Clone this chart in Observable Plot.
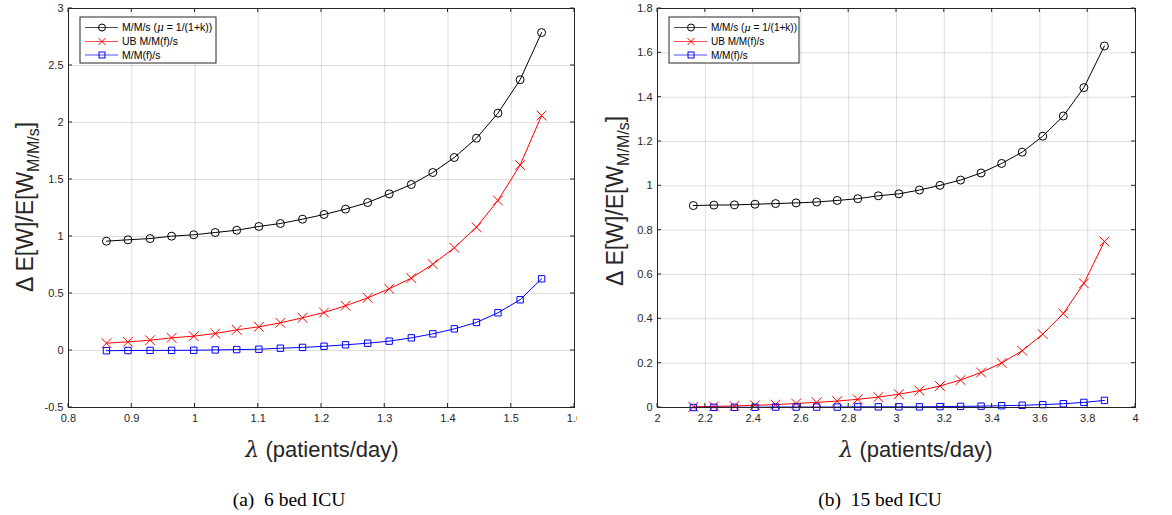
<!DOCTYPE html>
<html><head><meta charset="utf-8">
<script src="https://cdn.jsdelivr.net/npm/d3@7"></script>
<script src="https://cdn.jsdelivr.net/npm/@observablehq/plot@0.6"></script>
<style>
html,body{margin:0;padding:0;background:#fff;}
#wrap{position:relative;width:1172px;height:515px;overflow:hidden;background:#fff;}
#a{position:absolute;left:0;top:0;}
#b{position:absolute;left:586px;top:0;}
#overlay{position:absolute;left:0;top:0;pointer-events:none;}
</style></head><body>
<div id="wrap"><div id="a"></div><div id="b"></div><svg id="overlay" width="1172" height="515"></svg></div>
<script>
// ---- data ----
const seriesNames = ["M/M/s (μ = 1/(1+k))", "UB M/M(f)/s", "M/M(f)/s"];
const seriesColors = ["#000000", "#ff0000", "#0000ff"];
const seriesSymbols = ["circle", "times", "square"];

// (a) 6 bed ICU
const lambdaA = [0.860, 0.894, 0.929, 0.963, 0.998, 1.032, 1.066, 1.101, 1.135, 1.170, 1.204, 1.238, 1.273, 1.307, 1.342, 1.376, 1.410, 1.445, 1.479, 1.514, 1.548];
const mmsA = [0.959, 0.971, 0.982, 1.003, 1.015, 1.035, 1.055, 1.088, 1.114, 1.152, 1.193, 1.240, 1.298, 1.374, 1.456, 1.561, 1.693, 1.862, 2.082, 2.375, 2.789];
const ubA  = [0.064, 0.076, 0.090, 0.111, 0.126, 0.149, 0.181, 0.208, 0.243, 0.287, 0.333, 0.392, 0.462, 0.541, 0.635, 0.757, 0.901, 1.082, 1.316, 1.626, 2.061];
const mmfA = [-0.002, 0.000, 0.001, 0.001, 0.002, 0.005, 0.008, 0.011, 0.020, 0.027, 0.037, 0.050, 0.064, 0.082, 0.111, 0.146, 0.190, 0.246, 0.331, 0.445, 0.629];
const xTicksA = [0.8, 0.9, 1, 1.1, 1.2, 1.3, 1.4, 1.5, 1.6];
const yTicksA = [-0.5, 0, 0.5, 1, 1.5, 2, 2.5, 3];

// (b) 15 bed ICU
const lambdaB = [2.150, 2.236, 2.322, 2.408, 2.494, 2.580, 2.666, 2.752, 2.838, 2.924, 3.010, 3.096, 3.182, 3.268, 3.354, 3.440, 3.526, 3.612, 3.698, 3.784, 3.870];
const mmsB = [0.911, 0.913, 0.914, 0.917, 0.920, 0.923, 0.927, 0.934, 0.942, 0.955, 0.964, 0.981, 1.002, 1.026, 1.058, 1.101, 1.152, 1.224, 1.315, 1.443, 1.631];
const ubB  = [0.003, 0.005, 0.007, 0.010, 0.013, 0.018, 0.023, 0.029, 0.037, 0.047, 0.060, 0.076, 0.097, 0.124, 0.158, 0.201, 0.256, 0.331, 0.424, 0.560, 0.749];
const mmfB = [0.000, 0.001, 0.001, 0.001, 0.002, 0.002, 0.002, 0.002, 0.003, 0.003, 0.003, 0.003, 0.004, 0.005, 0.006, 0.008, 0.010, 0.013, 0.017, 0.023, 0.032];
const xTicksB = [2, 2.2, 2.4, 2.6, 2.8, 3, 3.2, 3.4, 3.6, 3.8, 4];
const yTicksB = [0, 0.2, 0.4, 0.6, 0.8, 1, 1.2, 1.4, 1.6, 1.8];

const xLabel = "(patients/day)";
const captions = ["(a)  6 bed ICU", "(b)  15 bed ICU"];

function makePanel({lam, series, xDomain, yDomain, xTicks, yTicks, width, marginLeft, marginRight, legendW, legendFont}) {
  const rs = [4, 4.5, 3.6];
  const marks = [
    Plot.gridX(xTicks, {stroke: "#000", strokeOpacity: 0.13, strokeWidth: 1}),
    Plot.gridY(yTicks, {stroke: "#000", strokeOpacity: 0.13, strokeWidth: 1})
  ];
  series.forEach((vals, i) => {
    const data = lam.map((x, j) => ({x, y: vals[j]}));
    marks.push(Plot.line(data, {x: "x", y: "y", stroke: seriesColors[i], strokeWidth: 1}));
    marks.push(Plot.dot(data, {x: "x", y: "y", symbol: seriesSymbols[i], r: rs[i], stroke: seriesColors[i], fill: "none", strokeWidth: 1}));
  });
  marks.push(Plot.axisX(xTicks, {tickSize: 0, tickPadding: 7, tickFormat: d => String(d), label: null, fill: "#262626"}));
  marks.push(Plot.axisY(yTicks, {tickSize: 0, tickPadding: 5, tickFormat: d => String(d), label: null, fill: "#262626"}));
  marks.push(Plot.frame({stroke: "#262626", strokeWidth: 1}));
  const plot = Plot.plot({
    width, height: 430, marginLeft, marginRight, marginTop: 8, marginBottom: 23,
    x: {domain: xDomain}, y: {domain: yDomain},
    style: {fontFamily: "'Liberation Sans', Arial, sans-serif", fontSize: "11px", color: "#262626", background: "white", overflow: "hidden"},
    marks
  });
  // inward ticks on all four sides
  const sx = plot.scale("x"), sy = plot.scale("y");
  const [xl, xr] = sx.range, [yb, yt] = sy.range;
  const svg = d3.select(plot);
  const g = svg.append("g").attr("stroke", "#262626").attr("stroke-width", 1);
  xTicks.forEach(t => {
    const px = sx.apply(t);
    g.append("line").attr("x1", px).attr("x2", px).attr("y1", yb).attr("y2", yb - 4);
    g.append("line").attr("x1", px).attr("x2", px).attr("y1", yt).attr("y2", yt + 4);
  });
  yTicks.forEach(t => {
    const py = sy.apply(t);
    g.append("line").attr("y1", py).attr("y2", py).attr("x1", xl).attr("x2", xl + 4);
    g.append("line").attr("y1", py).attr("y2", py).attr("x1", xr).attr("x2", xr - 4);
  });
  // legend
  const lx = xl + 12, ly = yt + 9;
  const lg = svg.append("g").attr("transform", `translate(${lx},${ly})`).attr("text-anchor", "start");
  lg.append("rect").attr("width", legendW).attr("height", 46).attr("fill", "white").attr("stroke", "#262626").attr("stroke-width", 1);
  const rows = [10.5, 24.5, 38];
  seriesNames.forEach((name, i) => {
    const y = rows[i];
    lg.append("line").attr("x1", 5).attr("x2", 38).attr("y1", y).attr("y2", y).attr("stroke", seriesColors[i]).attr("stroke-opacity", 0.7);
    const mx = 22;
    if (i === 0) lg.append("circle").attr("cx", mx).attr("cy", y).attr("r", 3.5).attr("fill", "none").attr("stroke", "#000");
    if (i === 1) lg.append("path").attr("d", `M${mx-3.5},${y-3.5}L${mx+3.5},${y+3.5}M${mx-3.5},${y+3.5}L${mx+3.5},${y-3.5}`).attr("stroke", "#f00");
    if (i === 2) lg.append("rect").attr("x", mx - 3).attr("y", y - 3).attr("width", 6).attr("height", 6).attr("fill", "none").attr("stroke", "#00f");
    const t = lg.append("text").attr("x", 42).attr("y", y + 3.5).attr("text-anchor", "start").attr("font-size", legendFont).attr("fill", "#000");
    if (i === 0) {
      t.append("tspan").text("M/M/s (");
      t.append("tspan").attr("font-style", "italic").attr("font-family", "'DejaVu Serif', serif").text("μ");
      t.append("tspan").text(" = 1/(1+k))");
    } else t.text(name);
  });
  return plot;
}

document.getElementById("a").appendChild(makePanel({
  lam: lambdaA, series: [mmsA, ubA, mmfA], xDomain: [0.8, 1.6], yDomain: [-0.5, 3],
  xTicks: xTicksA, yTicks: yTicksA, width: 577, marginLeft: 68, marginRight: 3, legendW: 136, legendFont: 10.5
}));
document.getElementById("b").appendChild(makePanel({
  lam: lambdaB, series: [mmsB, ubB, mmfB], xDomain: [2, 4], yDomain: [0, 1.8],
  xTicks: xTicksB, yTicks: yTicksB, width: 586, marginLeft: 71, marginRight: 37, legendW: 130, legendFont: 10
}));

// overlay texts: axis titles and captions
const ov = d3.select("#overlay");
function yTitle(x, y) {
  const t = ov.append("text").attr("transform", `translate(${x},${y}) rotate(-90)`).attr("text-anchor", "middle")
    .attr("font-family", "'Liberation Sans', Arial, sans-serif").attr("font-size", 23).attr("fill", "#262626");
  t.append("tspan").text("Δ E[W]/E[W");
  t.append("tspan").attr("font-size", 16).attr("dy", 6).text("M/M/s");
  t.append("tspan").attr("dy", -6).text("]");
}
yTitle(33, 207);
yTitle(623, 201);
function xTitle(cx, y) {
  const t = ov.append("text").attr("x", cx).attr("y", y).attr("text-anchor", "middle")
    .attr("font-family", "'Liberation Sans', Arial, sans-serif").attr("font-size", 22).attr("fill", "#262626");
  t.append("tspan").attr("font-style", "italic").attr("font-family", "'DejaVu Serif', serif").text("λ");
  t.append("tspan").text(" " + xLabel);
}
xTitle(322, 457);
xTitle(916, 457);
[[289, captions[0]], [880, captions[1]]].forEach(([cx, s]) => {
  ov.append("text").attr("x", cx).attr("y", 506).attr("text-anchor", "middle").attr("xml:space", "preserve")
    .style("white-space", "pre")
    .attr("font-family", "'Liberation Serif', 'Times New Roman', serif").attr("font-size", 19.5).attr("fill", "#000").text(s);
});
</script>
</body></html>
